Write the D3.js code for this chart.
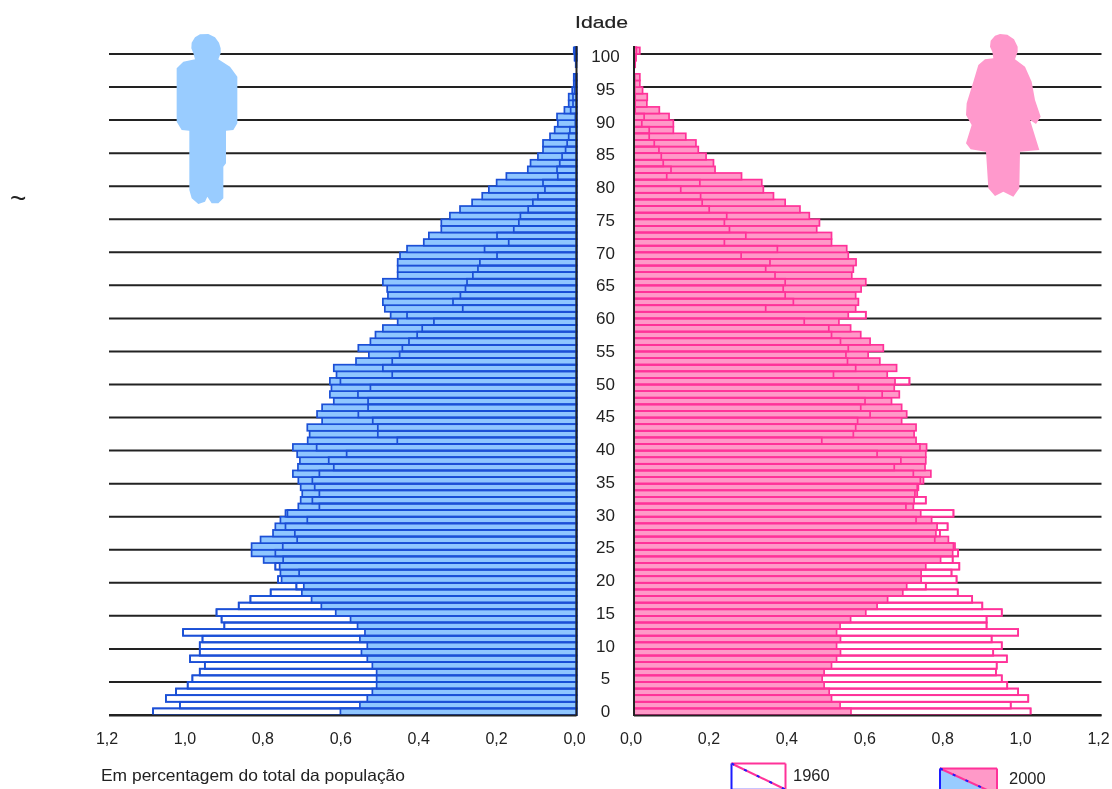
<!DOCTYPE html>
<html>
<head>
<meta charset="utf-8">
<script src="https://d3js.org/d3.v7.min.js"></script>
<style>
body { margin: 0; background: #fff; }
svg { display: block; }
text { font-family: "Liberation Sans", sans-serif; fill: #222; }
</style>
</head>
<body>
<div id="chart"></div>
<script>
// values index = age, 0 to 100, in percent of total population
var male1960 = [1.087,1.018,1.054,1.028,0.998,0.986,0.967,0.954,0.992,0.967,
    0.967,0.960,1.010,0.904,0.911,0.924,0.867,0.837,0.785,0.719,
    0.766,0.712,0.773,0.753,0.773,0.754,0.717,0.723,0.747,0.691,
    0.742,0.660,0.678,0.660,0.672,0.678,0.660,0.623,0.636,0.590,
    0.667,0.460,0.510,0.510,0.523,0.560,0.535,0.535,0.561,0.529,
    0.606,0.473,0.497,0.473,0.454,0.447,0.430,0.409,0.396,0.366,
    0.435,0.292,0.317,0.298,0.285,0.281,0.266,0.253,0.248,0.204,
    0.236,0.174,0.204,0.161,0.148,0.144,0.124,0.112,0.099,0.081,
    0.086,0.048,0.050,0.043,0.037,0.028,0.024,0.020,0.017,0.003,
    0.003,0.015,0.009,0.009,0.005,0.003,0.003,0,0,0.003,0.004];
var male2000 = [0.606,0.556,0.537,0.524,0.513,0.513,0.513,0.524,0.537,0.552,
    0.537,0.556,0.543,0.562,0.580,0.618,0.655,0.680,0.705,0.700,
    0.757,0.760,0.762,0.803,0.834,0.834,0.811,0.779,0.773,0.760,
    0.747,0.714,0.708,0.704,0.708,0.714,0.728,0.715,0.710,0.717,
    0.728,0.690,0.685,0.691,0.653,0.666,0.653,0.623,0.633,0.629,
    0.633,0.616,0.623,0.566,0.533,0.560,0.529,0.516,0.497,0.459,
    0.477,0.492,0.497,0.484,0.486,0.497,0.459,0.459,0.459,0.453,
    0.435,0.392,0.379,0.347,0.347,0.325,0.299,0.268,0.242,0.225,
    0.205,0.180,0.125,0.118,0.099,0.086,0.086,0.068,0.056,0.048,
    0.050,0.031,0.020,0.020,0.011,0.007,0.007,0,0.002,0.005,0.007];
var female1960 = [1.018,0.967,1.012,0.986,0.958,0.944,0.929,0.931,0.957,0.922,
    0.944,0.918,0.986,0.905,0.905,0.944,0.894,0.868,0.831,0.749,
    0.828,0.815,0.835,0.818,0.832,0.820,0.772,0.785,0.805,0.724,
    0.820,0.698,0.749,0.721,0.727,0.735,0.717,0.668,0.685,0.624,
    0.734,0.482,0.563,0.569,0.574,0.606,0.582,0.593,0.637,0.576,
    0.707,0.512,0.569,0.548,0.544,0.550,0.530,0.507,0.500,0.437,
    0.595,0.338,0.409,0.388,0.383,0.388,0.362,0.338,0.349,0.275,
    0.368,0.232,0.287,0.245,0.232,0.238,0.193,0.175,0.171,0.120,
    0.169,0.084,0.095,0.075,0.070,0.064,0.052,0.039,0.039,0.020,
    0.026,0.003,0.003,0.003,0.002,0.002,0.002,0,0.002,0.004,0.006];
var female2000 = [0.557,0.529,0.507,0.501,0.488,0.483,0.488,0.507,0.520,0.530,
    0.520,0.530,0.520,0.529,0.556,0.595,0.624,0.651,0.690,0.700,
    0.737,0.737,0.749,0.787,0.818,0.824,0.807,0.775,0.778,0.764,
    0.736,0.717,0.719,0.727,0.730,0.743,0.762,0.747,0.749,0.749,
    0.751,0.724,0.719,0.724,0.687,0.700,0.687,0.661,0.681,0.668,
    0.670,0.650,0.674,0.631,0.601,0.640,0.606,0.582,0.556,0.526,
    0.550,0.569,0.576,0.569,0.583,0.595,0.559,0.563,0.570,0.550,
    0.546,0.507,0.507,0.469,0.476,0.450,0.426,0.388,0.358,0.332,
    0.328,0.276,0.208,0.204,0.185,0.165,0.159,0.133,0.101,0.101,
    0.090,0.065,0.033,0.034,0.022,0.015,0.015,0,0.003,0.005,0.015];

var ageTicks = d3.range(0, 101, 5);
var pctTicks = [0, 0.2, 0.4, 0.6, 0.8, 1.0, 1.2];
var years = ["1960", "2000"];

// silhouettes, in zoomed crop units (3x)
var manShape = [[130,100],[124,85],[125,68],[135,52],[150,43],[175,42],[195,52],[207,68],[212,85],[212,100],[205,118],[240,140],[262,170],[262,310],[250,330],[228,332],[228,430],[220,440],[220,535],[205,550],[185,550],[172,530],[165,545],[145,552],[125,535],[118,510],[118,332],[95,330],[80,305],[80,145],[100,125],[135,118]];
var womanShape = [[127,95],[120,80],[122,62],[135,47],[150,42],[172,44],[192,58],[203,80],[203,95],[195,118],[225,140],[245,185],[255,240],[272,290],[258,312],[240,300],[268,390],[210,395],[208,505],[190,530],[160,515],[135,528],[115,505],[108,395],[62,388],[48,370],[65,315],[48,285],[50,250],[70,185],[85,135],[105,118],[130,115]];

var width = 1112, height = 789;
var blue = "#1a4fd6", blueFill = "#8fc6ff", pink = "#ff3399", pinkFill = "#ff99c8";

var root = d3.select("#chart").append("svg").attr("width", width).attr("height", height);
// the reference is a scaled up image, so everything is slightly soft
root.append("defs").append("filter").attr("id", "soft")
    .attr("x", 0).attr("y", 0).attr("width", 1).attr("height", 1)
    .append("feGaussianBlur").attr("stdDeviation", 0.45);
var svg = root.append("g").attr("filter", "url(#soft)");
svg.append("rect").attr("width", width).attr("height", height).attr("fill", "#fff");

var ages = d3.range(0, 101);
var yBand = d3.scaleBand().domain(ages).range([715, 47.4]);
var yLabel = d3.scaleLinear().domain([0, 100]).range([711, 56]);
var xLeft = d3.scaleLinear().domain([0, 1.2]).range([576.5, 109]);
var xRight = d3.scaleLinear().domain([0, 1.2]).range([634, 1101.5]);

// grid lines sit under the bars
function gridLines(x) {
    svg.append("g").selectAll("line").data(ageTicks).enter().append("line")
        .attr("x1", x(0)).attr("x2", x(1.2))
        .attr("y1", function(d){ return 715 - 6.61 * d; })
        .attr("y2", function(d){ return 715 - 6.61 * d; })
        .attr("stroke", "#222").attr("stroke-width", 2);
}
gridLines(xLeft);
gridLines(xRight);

function figure(points, ox, oy, color) {
    var line = d3.line().curve(d3.curveLinearClosed)
        .x(function(d){ return ox + d[0] / 3; })
        .y(function(d){ return oy + d[1] / 3; });
    svg.append("path").attr("d", line(points)).attr("fill", color);
}
figure(manShape, 150, 20, "#99ccff");
figure(womanShape, 950, 20, "#ff99cc");

// one side of the pyramid: white 1960 bars, filled 2000 bars, then 1960 outline again on top
function side(x, old, cur, stroke, fill) {
    var g = svg.append("g");
    function bars(values, barFill) {
        g.append("g").selectAll("rect").data(values).enter().append("rect")
            .attr("x", function(d){ return Math.min(x(0), x(d)); })
            .attr("width", function(d){ return Math.abs(x(d) - x(0)); })
            .attr("y", function(d, i){ return yBand(i); })
            .attr("height", yBand.bandwidth())
            .attr("fill", barFill).attr("stroke", stroke).attr("stroke-width", 1.7);
    }
    bars(old, "#fff");
    bars(cur, fill);
    bars(old, "none");
}
side(xLeft, male1960, male2000, blue, blueFill);
side(xRight, female1960, female2000, pink, pinkFill);

// axis lines
[xLeft, xRight].forEach(function(x){
    svg.append("line").attr("x1", x(0)).attr("x2", x(0)).attr("y1", 46).attr("y2", 716)
        .attr("stroke", "#222").attr("stroke-width", 2);
    svg.append("line").attr("x1", x(0)).attr("x2", x(1.2)).attr("y1", 715.5).attr("y2", 715.5)
        .attr("stroke", "#222").attr("stroke-width", 2);
});

// age labels
svg.append("text").text("Idade").attr("x", 575).attr("y", 28)
    .style("font-size", "17px").attr("textLength", 53).attr("lengthAdjust", "spacingAndGlyphs")
    .attr("stroke", "#222").attr("stroke-width", 0.2);
svg.append("g").selectAll("text").data(ageTicks).enter().append("text")
    .text(function(d){ return d; })
    .attr("x", 605.5).attr("y", function(d){ return yLabel(d) + 6; })
    .attr("text-anchor", "middle").style("font-size", "17px");

// percentage labels
function pctLabels(x, shift) {
    svg.append("g").selectAll("text").data(pctTicks).enter().append("text")
        .text(function(d){ return d3.format(".1f")(d).replace(".", ","); })
        .attr("x", function(d){ return x(d) + shift; })
        .attr("y", 744)
        .attr("text-anchor", "middle").style("font-size", "16px");
}
pctLabels(xLeft, -2);
pctLabels(xRight, -3);

svg.append("text").text("Em percentagem do total da população")
    .attr("x", 101).attr("y", 781).style("font-size", "16.5px")
    .attr("textLength", 304).attr("lengthAdjust", "spacingAndGlyphs");

svg.append("text").text("~").attr("x", 10).attr("y", 208).style("font-size", "28px");

// legend swatches: each split along the diagonal, woman on top right, man lower left
var legendBoxes = [
    {x: 731.5, y: 763.5, w: 54, h: 26, mf: "#fff", ff: "#fff", bottom: "#c8c4ff", label: years[0], tx: 793, ty: 781},
    {x: 940, y: 768.5, w: 57, h: 26, mf: "#99ccff", ff: pinkFill, bottom: "none", label: years[1], tx: 1009, ty: 784}
];
legendBoxes.forEach(function(b){
    var r = b.x + b.w, t = b.y, btm = b.y + b.h;
    function seg(x1, y1, x2, y2, color, dash) {
        svg.append("line").attr("x1", x1).attr("y1", y1).attr("x2", x2).attr("y2", y2)
            .attr("stroke", color).attr("stroke-width", 2).attr("stroke-dasharray", dash);
    }
    svg.append("path").attr("d", "M" + b.x + "," + t + "L" + r + "," + t + "L" + r + "," + btm + "Z").attr("fill", b.ff);
    svg.append("path").attr("d", "M" + b.x + "," + t + "L" + b.x + "," + btm + "L" + r + "," + btm + "Z").attr("fill", b.mf);
    seg(b.x, btm - 0.5, r, btm - 0.5, b.bottom, null);
    seg(b.x, t, b.x, btm, "#1a1aff", null);
    seg(b.x, t, r, t, pink, null);
    seg(r, t, r, btm, pink, null);
    seg(b.x, t, r, btm, pink, null);
    seg(b.x, t, r, btm, "#1a1aff", "3 11");
    svg.append("text").text(b.label).attr("x", b.tx).attr("y", b.ty)
        .style("font-size", "16.5px");
});
</script>
</body>
</html>
